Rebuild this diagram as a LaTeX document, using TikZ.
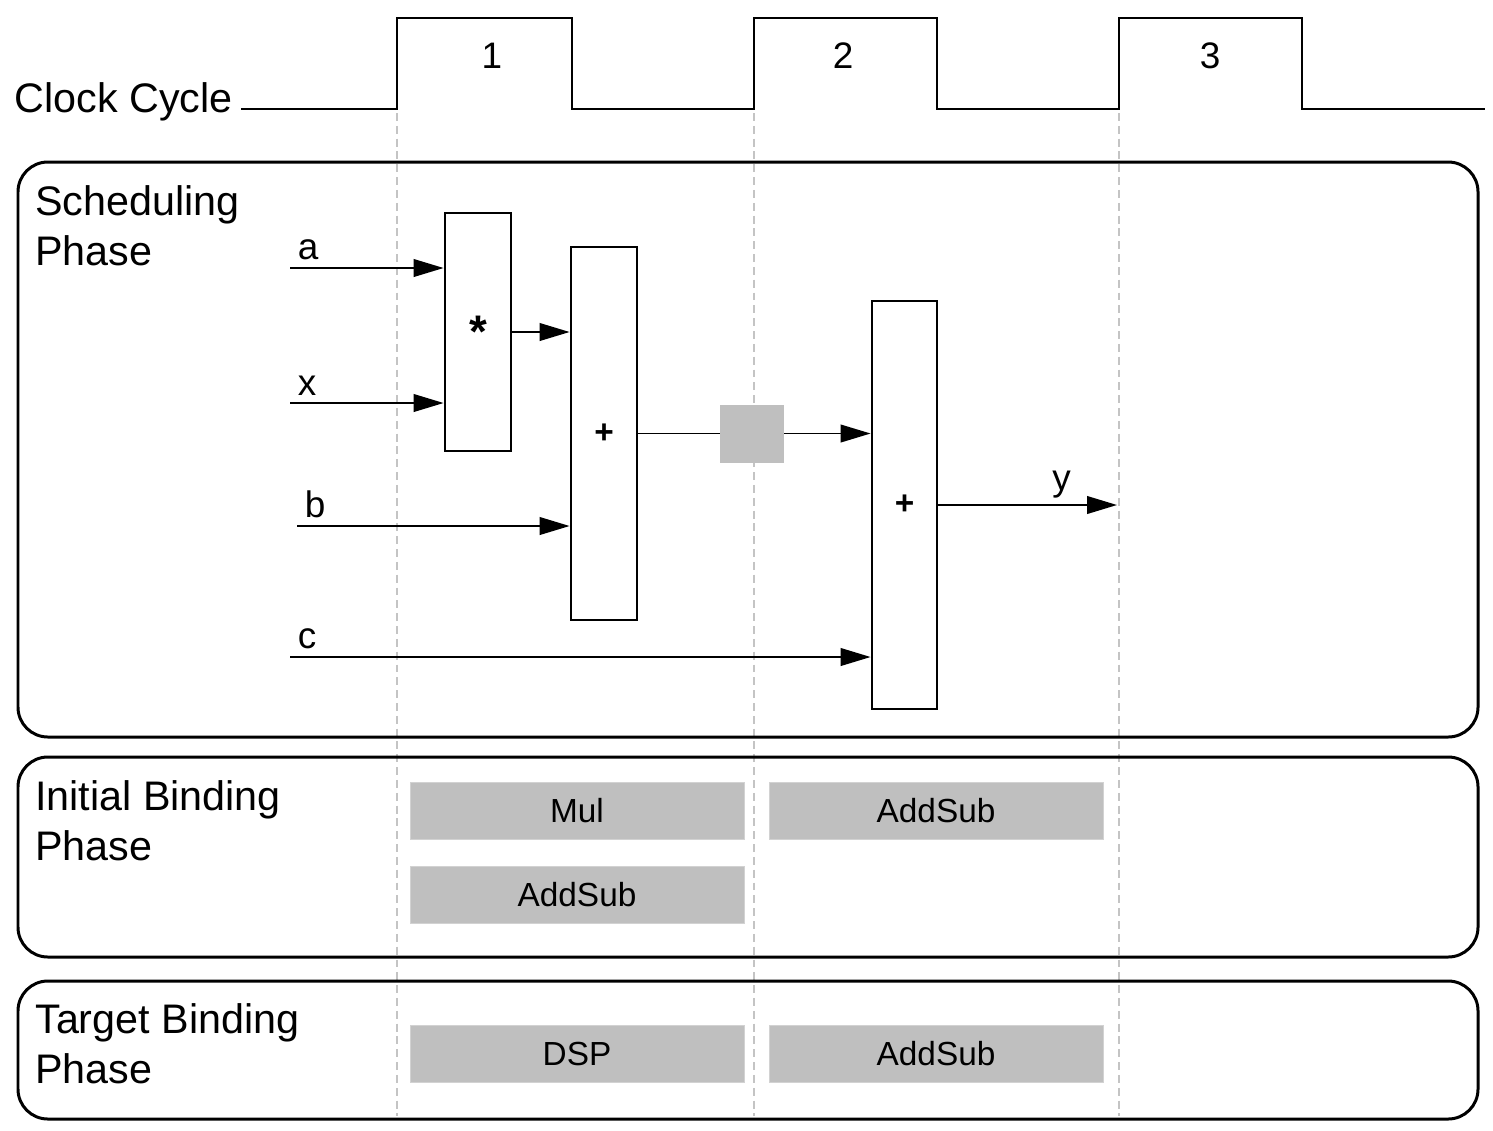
\documentclass[tikz,border=0pt]{standalone}
\usepackage{fontspec}
\setmainfont{Liberation Sans}
\usetikzlibrary{arrows.meta}
\definecolor{regfill}{HTML}{BFBFBF}
\definecolor{guide}{HTML}{C4C4C4}

\begin{document}
\begin{tikzpicture}
	[x=0.02cm, y=-0.02cm,
	block/.style = {draw, line width=1.6pt, minimum width=1.32cm, inner sep=0pt, font=\fontsize{19}{20}\selectfont\bfseries},
	reg/.style = {fill=regfill, minimum width=1.28cm, minimum height=1.16cm, inner sep=0pt},
	res/.style = {fill=regfill, draw=regfill!70!white, minimum width=6.68cm, minimum height=1.14cm, inner sep=0pt, font=\fontsize{19}{20}\selectfont},
	sig/.style = {line width=1.1pt, -{Triangle[length=17pt, width=10pt]}},
	phase/.style = {draw, line width=1.7pt, rounded corners=17pt},
	lbl/.style = {anchor=north west, align=left, inner sep=0pt, font=\fontsize{23.5}{28.4}\selectfont},
	pin/.style = {above right, inner sep=4pt, font=\fontsize{21}{24}\selectfont},
	cyc/.style = {guide, line width=0.8pt, dash pattern=on 4.5pt off 2.8pt}]
	\useasboundingbox (0,0) rectangle (1493,1130);
	% clock
	\node[anchor=base east, inner sep=0pt, font=\fontsize{23.5}{24}\selectfont] (clk) at (233,112) {Clock Cycle};
	\draw[line width=1.6pt] (241,109) -- (397,109) -- (397,18) -- (572,18) -- (572,109) -- (754,109) -- (754,18) -- (937,18) -- (937,109) -- (1119,109) -- (1119,18) -- (1302,18) -- (1302,109) -- (1485,109);
	\node[font=\fontsize{21}{24}\selectfont] (c1) at (492,56) {1};
	\node[font=\fontsize{21}{24}\selectfont] (c2) at (843,56) {2};
	\node[font=\fontsize{21}{24}\selectfont] (c3) at (1210,56) {3};
	\foreach \x in {397,754,1119}
		\draw[cyc] (\x,113) -- (\x,1116);
	% phases
	\draw[phase] (18,162) rectangle (1478,737);
	\draw[phase] (18,757) rectangle (1478,957);
	\draw[phase] (18,981) rectangle (1478,1119);
	\node[lbl] (sched) at (35,185) {Scheduling\\Phase};
	\node[lbl] (init) at (35,780) {Initial Binding\\Phase};
	\node[lbl] (targ) at (35,1003) {Target Binding\\Phase};
	% schedule
	\node[block, minimum height=4.76cm, font=\fontsize{26}{26}\selectfont\bfseries] (mul) at (478,332) {*};
	\node[block, minimum height=7.46cm] (add1) at (604,433.5) {+};
	\node[block, minimum height=8.16cm, minimum width=1.30cm] (add2) at (904.5,505) {+};
	\node[reg] (r1) at (752,433.5) {};
	\coordinate (ina) at (290,268);
	\coordinate (inx) at (290,403);
	\coordinate (inb) at (297,526);
	\coordinate (inc) at (290,657);
	\coordinate (outy) at (1117,506);
	\draw[sig] (ina) node[pin] {a} -- (ina -| mul.west);
	\draw[sig] (inx) node[pin] {x} -- (inx -| mul.west);
	\draw[sig] (inb) node[pin] {b} -- (inb -| add1.west);
	\draw[sig] (inc) node[pin] {c} -- (inc -| add2.west);
	\draw[sig] (mul.east) -- (mul.east -| add1.west);
	\draw[line width=1.1pt] (add1.east) -- (r1.west);
	\draw[sig] (r1.east) -- (r1.east -| add2.west);
	\draw[sig] (add2.east) -- (add2.east -| outy) node[pos=0.69, above, font=\fontsize{21}{24}\selectfont] {y};
	% binding
	\node[res] (mul1) at (577,810.5) {Mul};
	\node[res] (as1) at (577,895) {AddSub};
	\node[res] (as2) at (936,810.5) {AddSub};
	\node[res] (dsp) at (577,1053.5) {DSP};
	\node[res] (as3) at (936,1053.5) {AddSub};
\end{tikzpicture}
\end{document}
